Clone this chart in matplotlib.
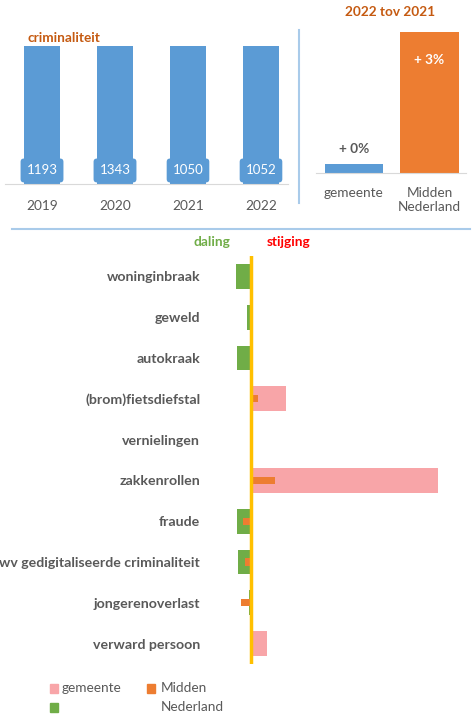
import matplotlib
matplotlib.use("Agg")
import matplotlib.pyplot as plt
from matplotlib.lines import Line2D
from matplotlib.patches import Rectangle

# ------------------------------------------------------------------
# data
# ------------------------------------------------------------------
jaren = ["2019", "2020", "2021", "2022"]
misdrijven = [1193, 1343, 1050, 1052]

vergelijk_labels = ["gemeente", "Midden\nNederland"]
vergelijk_waarden = [0.2, 3.0]

categorieen = ["woninginbraak", "geweld", "autokraak", "(brom)fietsdiefstal",
               "vernielingen", "zakkenrollen", "fraude",
               "wv gedigitaliseerde criminaliteit", "jongerenoverlast",
               "verward persoon"]
gemeente = [-15, -4, -14, 35, -1, 187, -14, -13, -2, 16]
midden_nl = [0.5, 0, -1, 7, -1, 24, -8, -6, -10, 0.5]

# ------------------------------------------------------------------
# style
# ------------------------------------------------------------------
plt.rcParams["font.family"] = ["Lato", "DejaVu Sans"]
BLAUW = "#5B9BD5"
ORANJE = "#ED7D31"
ROZE = "#F8A5A8"
GROEN = "#70AD47"
GRIJS = "#595959"
TITEL = "#C55A11"
LIJN = "#A9CBEA"

W, H = 477, 720


def rect(l, t, r, b):
    return [l / W, 1 - b / H, (r - l) / W, (b - t) / H]


fig = plt.figure(figsize=(W / 100, H / 100), dpi=100)

# ------------------------------------------------------------------
# criminaliteit per jaar
# ------------------------------------------------------------------
ax1 = fig.add_axes(rect(5, 46, 288, 184))
x = range(len(jaren))
ax1.bar(x, misdrijven, width=0.49, color=BLAUW)
ax1.set_ylim(0, 1000)
ax1.set_xlim(-0.507, 3.37)
for i, v in enumerate(misdrijven):
    ax1.text(i, 98, str(v), ha="center", va="center", color="white", fontsize=9.5,
             bbox=dict(boxstyle="round,pad=0.45,rounding_size=0.25", fc=BLAUW, ec="none"))
ax1.set_xticks(list(x), jaren)
ax1.tick_params(axis="x", length=0, pad=11.5, labelsize=9.8, labelcolor=GRIJS)
ax1.set_yticks([])
for s in ["top", "left", "right"]:
    ax1.spines[s].set_visible(False)
ax1.spines["bottom"].set_color("#D9D9D9")
fig.text(28 / W, 1 - 38 / H, "criminaliteit", color=TITEL, fontsize=9.8,
         fontweight="bold", ha="left", va="center")

# ------------------------------------------------------------------
# 2022 tov 2021
# ------------------------------------------------------------------
ax2 = fig.add_axes(rect(316, 32, 466, 173))
ax2.bar([0, 1], vergelijk_waarden, width=0.77, color=[BLAUW, ORANJE])
ax2.set_ylim(0, 3)
ax2.set_xlim(-0.503, 1.483)
ax2.text(0, vergelijk_waarden[0] + 0.31, f"+ {vergelijk_waarden[0]:.0f}%", ha="center",
         va="center", color=GRIJS, fontsize=9.8, fontweight="bold")
ax2.text(1, vergelijk_waarden[1] - 0.6, f"+ {vergelijk_waarden[1]:.0f}%", ha="center",
         va="center", color="white", fontsize=9.8, fontweight="bold")
ax2.set_xticks([0, 1], vergelijk_labels)
ax2.tick_params(axis="x", length=0, pad=10, labelsize=9.8, labelcolor=GRIJS)
ax2.set_yticks([])
for s in ["top", "left", "right"]:
    ax2.spines[s].set_visible(False)
ax2.spines["bottom"].set_color("#D9D9D9")
fig.text(390 / W, 1 - 12 / H, "2022 tov 2021", color=TITEL, fontsize=9.8,
         fontweight="bold", ha="center", va="center")

# scheidingslijnen
fig.add_artist(Line2D([299 / W, 299 / W], [1 - 30 / H, 1 - 203 / H], color=LIJN, lw=1.5))
fig.add_artist(Line2D([12 / W, 470 / W], [1 - 229 / H, 1 - 229 / H], color=LIJN, lw=1.5))

# ------------------------------------------------------------------
# daling / stijging per categorie
# ------------------------------------------------------------------
ax3 = fig.add_axes(rect(205, 256, 470, 664))
y = range(len(categorieen))
kleuren = [ROZE if v > 0 else GROEN for v in gemeente]
ax3.barh(y, gemeente, height=0.61, color=kleuren)
ax3.barh(y, midden_nl, height=0.18, color=ORANJE)
ax3.axvline(0, color="#FFC000", lw=2.5)
ax3.set_xlim(-46, 219)
ax3.set_ylim(9.5, -0.5)
ax3.set_yticks(list(y), categorieen)
ax3.tick_params(axis="y", length=0, pad=3.5, labelsize=10.2, labelcolor=GRIJS)
for lab in ax3.get_yticklabels():
    lab.set_fontweight("bold")
ax3.set_xticks([])
for s in ax3.spines.values():
    s.set_visible(False)
ax3.text(-39, 1.034, "daling", transform=ax3.get_xaxis_transform(), color=GROEN,
         fontsize=9.8, fontweight="bold", ha="center", va="center")
ax3.text(38, 1.034, "stijging", transform=ax3.get_xaxis_transform(), color="#FF0000",
         fontsize=9.8, fontweight="bold", ha="center", va="center")

# legenda
for kleur, lx, ly in [(ROZE, 50, 684), (ORANJE, 147, 684), (GROEN, 50, 703)]:
    fig.add_artist(Rectangle((lx / W, 1 - (ly + 9) / H), 8 / W, 9 / H,
                             color=kleur, transform=fig.transFigure))
fig.text(62 / W, 1 - 688 / H, "gemeente", color=GRIJS, fontsize=9.8, va="center")
fig.text(161 / W, 1 - 688 / H, "Midden", color=GRIJS, fontsize=9.8, va="center")
fig.text(161 / W, 1 - 707 / H, "Nederland", color=GRIJS, fontsize=9.8, va="center")

fig.savefig("out.png", dpi=100)
